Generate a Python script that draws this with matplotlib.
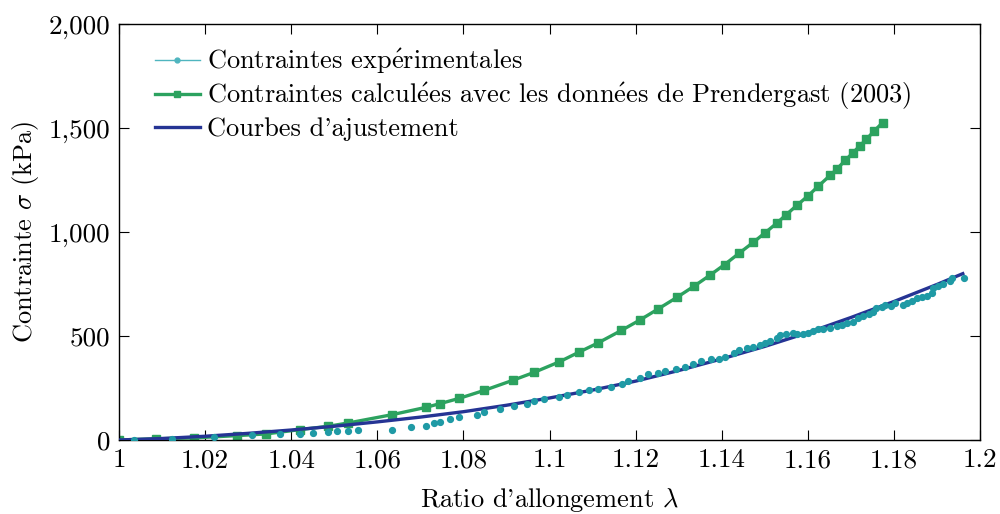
import matplotlib
matplotlib.use('Agg')
import matplotlib.pyplot as plt
from matplotlib.lines import Line2D

# Donnees
exp_x = [1.0036, 1.0124, 1.0221, 1.0309, 1.0375, 1.0420, 1.0450, 1.0486, 1.0506, 1.0532,
         1.0555, 1.0635, 1.0678, 1.0712, 1.0732, 1.0746, 1.0770, 1.0790, 1.0832, 1.0849,
         1.0885, 1.0918, 1.0947, 1.0965, 1.0987, 1.1023, 1.1040, 1.1069, 1.1092, 1.1112,
         1.1143, 1.1168, 1.1183, 1.1210, 1.1228, 1.1253, 1.1268, 1.1295, 1.1314, 1.1334,
         1.1353, 1.1374, 1.1394, 1.1407, 1.1429, 1.1441, 1.1458, 1.1473, 1.1489, 1.1500,
         1.1513, 1.1528, 1.1535, 1.1549, 1.1566, 1.1574, 1.1590, 1.1601, 1.1611, 1.1624,
         1.1636, 1.1652, 1.1667, 1.1679, 1.1690, 1.1706, 1.1717, 1.1729, 1.1741, 1.1752,
         1.1758, 1.1772, 1.1779, 1.1793, 1.1803, 1.1820, 1.1830, 1.1841, 1.1853, 1.1865,
         1.1876, 1.1888, 1.1891, 1.1903, 1.1915, 1.1930, 1.1934, 1.1963]
exp_y = [1, 7, 16, 23, 29, 29, 34, 38, 42, 45,
         47, 50, 63, 69, 80, 88, 100, 111, 122, 136,
         150, 163, 175, 186, 197, 206, 216, 231, 240, 247,
         256, 271, 285, 298, 316, 324, 330, 340, 352, 367,
         381, 388, 391, 400, 417, 434, 444, 447, 457, 465,
         478, 492, 505, 508, 514, 511, 508, 516, 524, 534,
         535, 540, 547, 553, 561, 569, 588, 598, 604, 617,
         633, 641, 649, 646, 657, 649, 657, 668, 681, 686,
         691, 705, 729, 742, 749, 764, 780, 777]

pren_x = [1.0, 1.0087, 1.0175, 1.0274, 1.0341, 1.0421, 1.0486, 1.0533, 1.0635, 1.0713,
          1.0746, 1.0790, 1.0849, 1.0916, 1.0964, 1.1023, 1.1068, 1.1112, 1.1167, 1.1210,
          1.1253, 1.1296, 1.1336, 1.1373, 1.1407, 1.1441, 1.1473, 1.1501, 1.1528, 1.1549,
          1.1576, 1.1600, 1.1624, 1.1652, 1.1667, 1.1687, 1.1705, 1.1721, 1.1736, 1.1754,
          1.1774]
pren_y = [0, 6, 10, 21, 29, 50, 66, 82, 122, 157,
          175, 200, 239, 288, 325, 376, 422, 466, 527, 577,
          631, 686, 740, 793, 844, 899, 950, 997, 1043, 1082,
          1131, 1173, 1220, 1273, 1302, 1345, 1382, 1415, 1446, 1486,
          1527]

fit_x = [1.00, 1.01, 1.02, 1.03, 1.04, 1.05, 1.06, 1.07, 1.08, 1.09, 1.10,
         1.11, 1.12, 1.13, 1.14, 1.15, 1.16, 1.17, 1.18, 1.19, 1.196]
fit_y = [0, 7, 18, 32, 48, 66, 87, 110, 136, 167, 202,
         240, 283, 334, 390, 450, 516, 589, 666, 748, 800]

x_ticks = [1.0, 1.02, 1.04, 1.06, 1.08, 1.1, 1.12, 1.14, 1.16, 1.18, 1.2]
x_labels = ['1', '1.02', '1.04', '1.06', '1.08', '1.1', '1.12', '1.14', '1.16', '1.18', '1.2']
y_ticks = [0, 500, 1000, 1500, 2000]
y_labels = ['0', '500', '1,000', '1,500', '2,000']

teal = '#1f9aa5'
green = '#2ca25f'
navy = '#253494'

plt.rcParams['font.family'] = ['cmr10', 'DejaVu Serif']
plt.rcParams['mathtext.fontset'] = 'cm'
plt.rcParams['axes.formatter.use_mathtext'] = True

fig = plt.figure(figsize=(10, 5.14), dpi=100)
ax = fig.add_axes([0.119, 0.144, 0.861, 0.809])

ax.plot(fit_x, fit_y, color=navy, lw=2.4, zorder=3)
ax.plot(pren_x, pren_y, color=green, lw=2.4, marker='s', ms=6, zorder=2)
ax.plot(exp_x, exp_y, ls='none', marker='o', ms=4.2, color=teal, zorder=4)

ax.set_xlim(1.0, 1.2)
ax.set_ylim(0, 2000)
ax.set_xticks(x_ticks)
ax.set_xticklabels(x_labels)
ax.set_yticks(y_ticks)
ax.set_yticklabels(y_labels)
ax.tick_params(direction='in', length=7.5, width=0.8, top=True, right=True,
               labelsize=19.5, pad=6)
for s in ax.spines.values():
    s.set_linewidth(1.0)

ax.set_xlabel("Ratio d'allongement $\\lambda$", fontsize=19, labelpad=10)
ax.set_ylabel("Contrainte $\\sigma$ (kPa)", fontsize=19, labelpad=6)

# Legende (accents via mathtext, cmr10 n'a pas de é)
e_acc = r'$\mathrm{\acute{e}}$'
handles = [
    Line2D([], [], color='#4fb5bf', lw=1.0, marker='o', ms=3.5),
    Line2D([], [], color=green, lw=2.4, marker='s', ms=5),
    Line2D([], [], color=navy, lw=2.4),
]
labels = ['Contraintes exp' + e_acc + 'rimentales',
          'Contraintes calcul' + e_acc + 'es avec les donn' + e_acc + 'es de Prendergast (2003)',
          "Courbes d'ajustement"]
ax.legend(handles, labels, loc='upper left', frameon=False, fontsize=19,
          handlelength=1.7, handletextpad=0.3, labelspacing=0.18,
          borderaxespad=0.3, bbox_to_anchor=(0.02, 0.99))

fig.savefig('out.png', dpi=100)
